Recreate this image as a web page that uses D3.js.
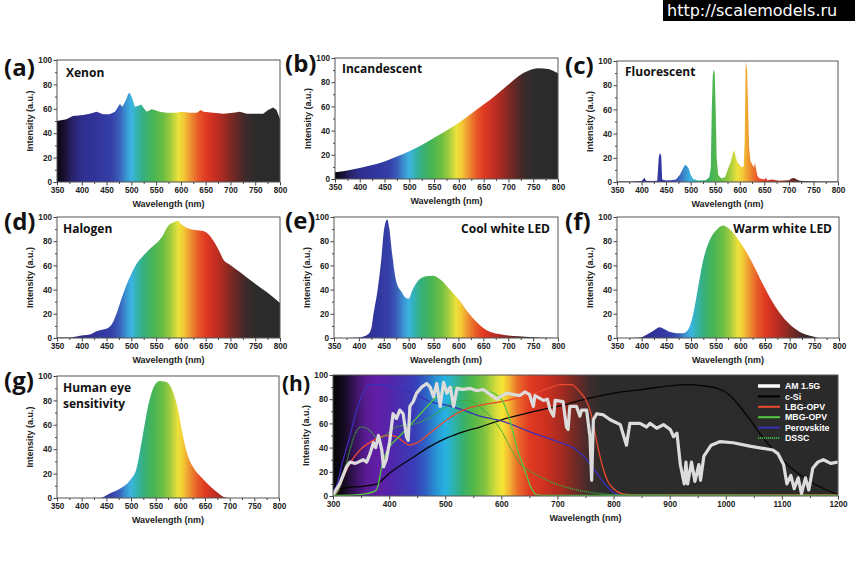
<!DOCTYPE html>
<html><head><meta charset="utf-8">
<script src="https://cdn.jsdelivr.net/npm/d3@7"></script>
<style>body{margin:0;background:#fff}svg{display:block}</style>
</head><body><svg id="c" width="855" height="575"></svg>
<script>
// ---------- DATA ----------
const wlTicks = [350,400,450,500,550,600,650,700,750,800];
const wlTicksH = [300,400,500,600,700,800,900,1000,1100,1200];
const intensityTicks = [0,20,40,60,80,100];

const xenon = [[350,50],[369,51.5],[382,54],[403,55],[416,56],[430,57.5],[443,55.6],[456,55.6],[467,57.5],[477,64],[482,61.6],[489,67],[494,72.6],[497,73],[502,68.5],[507,61.6],[514,62.5],[520,63.6],[526,60],[531,57.5],[541,59.7],[547,59],[557,57.5],[571,56.7],[591,56.7],[601,57.5],[618,56.7],[632,56.7],[640,59],[646,57.5],[665,56.7],[686,56],[706,56.7],[719,57.5],[733,56],[746,56],[766,56],[776,59],[786,61],[793,59],[800,51.5]];
const incandescent = [[350,5.5],[375,7],[400,9],[425,11.5],[450,14.5],[475,18.5],[500,23],[525,28],[550,34],[575,40],[600,46.5],[625,54],[650,61.5],[675,69.5],[700,78],[720,85],[740,89.5],[760,91.5],[780,91],[790,89.5],[800,87.5]];
const fluorescent = [[350,0.5],[380,0.5],[400,0.8],[403,2],[406,3.5],[409,1],[420,0.8],[432,1],[435,20],[437,24],[440,22],[442,2],[450,1.2],[460,1.5],[470,2],[478,6],[483,10],[488,14],[492,13.5],[496,11],[500,6],[505,2.5],[515,1.2],[530,1.5],[538,4],[541,12],[543,60],[545,88],[547,93],[549,90],[551,60],[553,20],[556,6],[562,3],[570,4],[577,12],[582,17],[586,24],[589,26],[592,20],[596,16],[600,14],[604,12],[608,13],[610,35],[612,100],[615,92],[617,60],[619,28],[622,17],[626,14],[629,12],[631,16],[633,11],[636,5],[640,3],[650,2],[653,3.5],[656,1.5],[665,2],[680,1],[700,1.5],[706,3],[711,3.3],[716,2],[722,1],[740,0.6],[760,0.5],[800,0.5]];
const halogen = [[350,0.5],[376,0.5],[403,2.2],[416,2.8],[430,5.5],[443,7],[453,8.3],[463,13],[470,20],[480,32.5],[490,43.5],[500,53],[510,61],[524,68],[541,75],[551,78.5],[564,85],[574,92.5],[588,96],[593,97],[601,94],[618,90],[632,89],[645,88.5],[655,86],[665,80.7],[676,73],[687,64],[699,60.6],[719,54.5],[746,46],[773,38],[800,29]];
const coolLED = [[350,0],[401,0.5],[418,2.8],[425,8],[429,19],[438,41],[445,65],[451,91],[457,98],[461,91],[467,69],[475,47],[485,38.6],[495,33],[500,32.5],[508,40],[518,47],[535,51],[548,51.5],[565,48],[581,41],[601,31.7],[618,22],[635,13.8],[655,6.9],[681,3.3],[721,1.4],[761,0.5],[800,0]];
const warmLED = [[350,0],[397,0.5],[410,2.7],[424,6],[437,8.8],[444,7.7],[458,4.9],[471,4],[484,4],[494,6.8],[504,19],[514,41],[524,63],[538,81],[551,89],[565,93],[578,90],[592,83.5],[608,74],[625,61.6],[645,45],[665,30],[685,18],[705,9.6],[726,4],[746,1.4],[760,0],[800,0]];
const humanEye = [[350,0],[437,0],[457,3.6],[478,7.7],[498,14.5],[511,24],[518,38],[525,54],[535,76],[545,90],[558,96],[572,95],[585,87],[595,73],[605,51.5],[615,35],[628,24],[645,16],[662,9],[678,3.6],[688,0.8],[699,0],[800,0]];

const am15g = [[300,1],[312,10],[324,24],[330,28],[340,27],[354,30],[360,28],[366,35],[372,44],[376,40],[381,50],[387,38],[390,24],[395,30],[401,45],[407,68],[413,64],[419,71],[425,68],[431,49],[434,46],[437,74],[443,78],[449,85],[458,90],[467,93],[473,90],[479,82],[485,93],[491,74],[497,94],[503,85],[509,90],[515,74],[521,89],[532,88],[544,89],[556,87],[568,88],[580,84],[592,80],[598,82],[610,85],[620,84],[633,83],[642,86],[650,84],[657,74],[660,83],[675,79],[682,80],[687,71],[693,66],[696,79],[710,78],[716,57],[719,55],[722,74],[734,74],[740,66],[743,71],[752,71],[758,49],[761,13],[764,63],[770,68],[782,67],[794,63],[812,59],[823,42],[829,60],[847,60],[859,57],[865,60],[877,56],[889,59],[901,55],[907,49],[913,52],[919,26],[926,10],[929,28],[932,10],[939,28],[945,12],[952,26],[955,13],[961,33],[974,42],[990,45],[1013,44],[1045,41],[1084,38],[1093,35],[1103,26],[1109,10],[1116,17],[1122,6],[1129,15],[1135,2],[1142,15],[1148,5],[1155,23],[1164,28],[1174,30],[1187,27],[1200,28]];
const cSi = [[300,4],[324,7],[354,8],[378,10],[401,19],[443,32],[473,41],[503,48],[532,53],[562,57],[600,63],[650,69],[700,74],[750,80],[800,85],[850,88],[900,91],[930,92],[960,91],[985,89],[1005,84],[1025,74],[1045,62],[1065,49],[1085,38],[1105,28],[1125,20],[1150,12],[1175,6],[1200,1]];
const lbgOPV = [[300,1],[306,2],[318,15],[330,27],[348,38],[372,46],[396,50],[413,49],[425,45],[437,42],[450,44],[473,52],[503,63],[532,71],[562,75],[600,78],[630,81],[660,85],[690,90],[705,92],[725,92],[740,86],[750,80],[760,68],[770,45],[780,25],[790,12],[800,6],[815,2],[840,1],[1200,1]];
const mbgOPV = [[300,0.5],[340,1],[360,2],[375,4],[380,8],[385,20],[390,30],[400,40],[420,50],[440,60],[460,70],[480,80],[500,87],[520,90],[540,90],[560,88],[580,86],[600,80],[615,63],[627,41],[642,21],[654,6],[663,1],[680,0.5],[1200,0.5]];
const perovskite = [[300,4],[306,8],[318,30],[330,49],[340,68],[348,79],[357,88],[366,92],[384,92],[413,89],[443,85],[473,78],[503,75],[532,71],[562,66],[600,62],[657,52],[700,45],[734,38],[752,30],[770,19],[788,8],[803,2],[820,0.5],[1200,0.5]];
const dssc = [[300,0],[310,5],[320,20],[330,38],[340,52],[350,57],[360,56],[370,52],[380,47],[390,49],[405,55],[420,58],[440,59],[460,62],[480,67],[500,73],[520,78],[540,79],[560,74],[580,66],[600,54],[615,41],[633,27],[657,19],[687,12],[717,7],[746,4],[776,2],[800,1],[1200,0.5]];

const legendLabels = ["AM 1.5G","c-Si","LBG-OPV","MBG-OPV","Perovskite","DSSC"];

// ---------- STYLE ----------
const specStops = [[350,'#0a0610'],[365,'#1a1034'],[380,'#282268'],[400,'#2e2e8e'],[430,'#32349c'],[460,'#3440a8'],[475,'#3a5cb8'],[490,'#3a96d2'],[500,'#3cb4e0'],[510,'#34b2b8'],[525,'#36b07a'],[545,'#48b454'],[565,'#6cbe42'],[580,'#a4cc3e'],[595,'#ece23a'],[605,'#f2cc36'],[620,'#ee8e30'],[635,'#e85a28'],[650,'#e03a22'],[670,'#c42e22'],[690,'#9a2a22'],[710,'#6a2824'],[730,'#3e2a2a'],[750,'#2c2c2c'],[800,'#2a2a2a']];
const specStopsH = [[300,'#060606'],[320,'#160a22'],[340,'#3a1460'],[360,'#5a1c96'],[380,'#621ea6'],[400,'#5424aa'],[420,'#4630b0'],[445,'#3a3cb8'],[465,'#3060c4'],[485,'#2896d4'],[500,'#26b2e2'],[515,'#2eb2b0'],[530,'#34b070'],[550,'#52b848'],[570,'#80c240'],[590,'#d4dc3a'],[602,'#f6e634'],[615,'#f2b032'],[630,'#ec6a2a'],[650,'#e03a22'],[680,'#cc3020'],[710,'#a02a20'],[735,'#6a2a26'],[760,'#3a2c2c'],[785,'#2c2c2c'],[1200,'#2a2a2a']];

const svg = d3.select('#c');
const defs = svg.append('defs');
const tickFont = "'Liberation Sans', Arial, sans-serif";
const labelFont = "'Open Sans', 'Noto Sans', sans-serif";

function addGradient(id, x, stops) {
  const g = defs.append('linearGradient').attr('id', id).attr('gradientUnits','userSpaceOnUse')
    .attr('x1', x.range()[0]).attr('x2', x.range()[1]).attr('y1', 0).attr('y2', 0);
  const [d0, d1] = x.domain();
  stops.forEach(([w, c]) => g.append('stop').attr('offset', (w - d0) / (d1 - d0)).attr('stop-color', c));
}

function drawAxes(g, x, y, xt, minorStepX) {
  const [x0, x1] = x.range(); const [y1, y0] = y.range();
  const xMinor = d3.range(xt[0] + minorStepX / 2, xt[xt.length - 1], minorStepX);
  const yMinor = d3.range(10, 100, 20);
  g.append('g').attr('transform', `translate(0,${y1})`).call(d3.axisBottom(x).tickValues(xMinor).tickSize(2).tickFormat(''))
    .call(a => a.select('.domain').remove());
  g.append('g').attr('transform', `translate(${x0},0)`).call(d3.axisLeft(y).tickValues(yMinor).tickSize(2).tickFormat(''))
    .call(a => a.select('.domain').remove());
  const xa = g.append('g').attr('transform', `translate(0,${y1})`).call(d3.axisBottom(x).tickValues(xt).tickSize(3.5).tickPadding(1.5).tickFormat(d3.format('d')));
  const ya = g.append('g').attr('transform', `translate(${x0},0)`).call(d3.axisLeft(y).tickValues(intensityTicks).tickSize(3.5).tickPadding(1.5));
  [xa, ya].forEach(a => {
    a.select('.domain').remove();
    a.selectAll('text').attr('font-family', tickFont).attr('font-weight', 'bold').attr('font-size', 8.2).attr('fill', '#222');
  });
  g.selectAll('.tick line').attr('stroke', '#444');
  g.append('rect').attr('x', x0).attr('y', y0).attr('width', x1 - x0).attr('height', y1 - y0)
    .attr('fill', 'none').attr('stroke', '#555').attr('stroke-width', 1);
  g.append('text').attr('x', (x0 + x1) / 2).attr('y', y1 + 25).attr('text-anchor', 'middle')
    .attr('font-family', tickFont).attr('font-weight', 'bold').attr('font-size', 9).attr('fill', '#222').text('Wavelength (nm)');
  g.append('text').attr('transform', `translate(${x0 - 24},${(y0 + y1) / 2}) rotate(-90)`).attr('text-anchor', 'middle')
    .attr('font-family', tickFont).attr('font-weight', 'bold').attr('font-size', 9).attr('fill', '#222').text('Intensity (a.u.)');
}

const panels = [
  {id:'a', data: xenon, box:[57,280,60,182], lab:[4,76], title:['Xenon'], tpos:[66,77], anchor:'start', curve: d3.curveLinear},
  {id:'b', data: incandescent, box:[335,558,58,179], lab:[285,72], title:['Incandescent'], tpos:[342,73], anchor:'start', curve: d3.curveMonotoneX},
  {id:'c', data: fluorescent, box:[617,838,61,182], lab:[565,74], title:['Fluorescent'], tpos:[625,76], anchor:'start', curve: d3.curveLinear},
  {id:'d', data: halogen, box:[57,280,217,338], lab:[4,230], title:['Halogen'], tpos:[63,233], anchor:'start', curve: d3.curveMonotoneX},
  {id:'e', data: coolLED, box:[334,558,217,338], lab:[285,229], title:['Cool white LED'], tpos:[550,233], anchor:'end', curve: d3.curveMonotoneX},
  {id:'f', data: warmLED, box:[617,839,217,338], lab:[565,230], title:['Warm white LED'], tpos:[832,233], anchor:'end', curve: d3.curveMonotoneX},
  {id:'g', data: humanEye, box:[57,279,376,498], lab:[4,389], title:['Human eye','sensitivity'], tpos:[63,392], anchor:'start', curve: d3.curveMonotoneX}
];

panels.forEach(p => {
  const [x0, x1, y0, y1] = p.box;
  const x = d3.scaleLinear().domain([350, 800]).range([x0, x1]);
  const y = d3.scaleLinear().domain([0, 100]).range([y1, y0]);
  addGradient('grad-' + p.id, x, specStops);
  const g = svg.append('g');
  const area = d3.area().x(d => x(d[0])).y0(y(0)).y1(d => y(d[1])).curve(p.curve);
  g.append('path').datum(p.data).attr('d', area).attr('fill', `url(#grad-${p.id})`);
  drawAxes(g, x, y, wlTicks, 50);
  g.append('text').attr('x', p.lab[0]).attr('y', p.lab[1]).attr('font-family', labelFont).attr('font-weight', 'bold')
    .attr('font-size', 24).attr('fill', '#111').text(`(${p.id})`);
  p.title.forEach((t, i) => g.append('text').attr('x', p.tpos[0]).attr('y', p.tpos[1] + i * 16).attr('text-anchor', p.anchor)
    .attr('font-family', labelFont).attr('font-weight', 'bold').attr('font-size', 12).attr('fill', '#111').text(t));
});

// ---------- Panel (h) ----------
(function () {
  const box = [333, 838, 375, 496];
  const [x0, x1, y0, y1] = box;
  const x = d3.scaleLinear().domain([300, 1200]).range([x0, x1]);
  const y = d3.scaleLinear().domain([0, 100]).range([y1, y0]);
  addGradient('grad-h', x, specStopsH);
  const g = svg.append('g');
  g.append('rect').attr('x', x0).attr('y', y0).attr('width', x1 - x0).attr('height', y1 - y0).attr('fill', 'url(#grad-h)');
  const clip = defs.append('clipPath').attr('id', 'clip-h');
  clip.append('rect').attr('x', x0).attr('y', y0).attr('width', x1 - x0).attr('height', y1 - y0);
  const line = d3.line().x(d => x(d[0])).y(d => y(d[1]));
  const smooth = d3.line().x(d => x(d[0])).y(d => y(d[1])).curve(d3.curveMonotoneX);
  const series = [
    {data: cSi, color: '#050505', w: 1.3, gen: smooth},
    {data: perovskite, color: '#3a30b8', w: 1.3, gen: smooth},
    {data: lbgOPV, color: '#ea4a2e', w: 1.3, gen: smooth},
    {data: dssc, color: '#3aa83a', w: 1.3, gen: smooth, dash: '1.2,0.8'},
    {data: mbgOPV, color: '#54c840', w: 1.3, gen: smooth},
    {data: am15g, color: '#dcdcdc', w: 3.2, gen: line}
  ];
  const lg = g.append('g').attr('clip-path', 'url(#clip-h)');
  series.forEach(s => lg.append('path').datum(s.data).attr('d', s.gen).attr('fill', 'none')
    .attr('stroke', s.color).attr('stroke-width', s.w).attr('stroke-linejoin', 'round')
    .attr('stroke-dasharray', s.dash || null));
  drawAxes(g, x, y, wlTicksH, 100);
  g.append('text').attr('x', 282).attr('y', 391).attr('font-family', labelFont).attr('font-weight', 'bold')
    .attr('font-size', 21).attr('fill', '#111').text('(h)');
  // legend
  const legColors = ['#ffffff', '#000000', '#ea4a2e', '#54c840', '#3a30b8', '#3aa83a'];
  const legW = [3.5, 2, 2, 2, 2, 2];
  legendLabels.forEach((t, i) => {
    const yy = 386 + i * 10.4;
    g.append('line').attr('x1', 758).attr('x2', 780).attr('y1', yy).attr('y2', yy)
      .attr('stroke', legColors[i]).attr('stroke-width', legW[i]).attr('stroke-dasharray', i === 5 ? '1.2,0.8' : null);
    g.append('text').attr('x', 785).attr('y', yy + 3.2).attr('font-family', tickFont).attr('font-weight', 'bold')
      .attr('font-size', 8.8).attr('fill', '#fff').text(t);
  });
})();

// watermark
svg.append('rect').attr('x', 663).attr('y', 0).attr('width', 192).attr('height', 21).attr('fill', '#000');
svg.append('text').attr('x', 667).attr('y', 16).attr('font-family', "'DejaVu Sans', Verdana, sans-serif")
  .attr('font-size', 16).attr('fill', '#fff').text('http://scalemodels.ru');
</script></body></html>
